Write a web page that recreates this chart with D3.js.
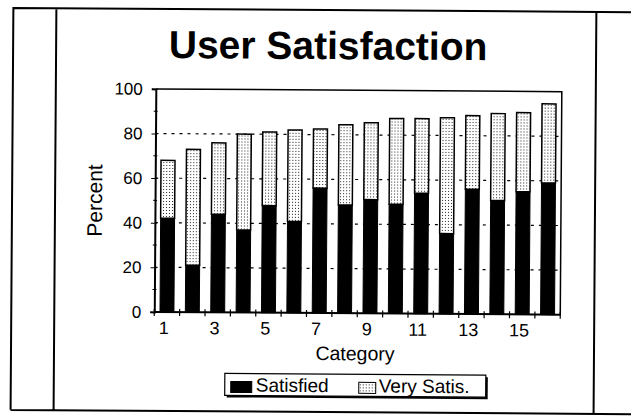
<!DOCTYPE html>
<html>
<head>
<meta charset="utf-8">
<script src="https://cdn.jsdelivr.net/npm/d3@7"></script>
<style>
  body { margin: 0; background: #fff; }
  text { font-family: "Liberation Sans", Arial, sans-serif; fill: #000; }
</style>
</head>
<body>
<div id="chart"></div>
<script>
// categories and values
var categories = ["1","2","3","4","5","6","7","8","9","10","11","12","13","14","15","16"];
var satisfied  = [42, 21, 44, 37, 48, 41, 56, 48.5, 51, 49, 54, 36, 56, 51, 55, 59];
var verySatis  = [26, 52, 32, 43, 33, 41, 26.5, 36, 34.5, 38.5, 33.5, 52, 33, 39, 35.5, 35.5];
var yTicks = [0, 20, 40, 60, 80, 100];
var yMinorTicks = [10, 30, 50, 70, 90];
var gridValues = [20, 40, 60, 80];
var xLabels = ["1","3","5","7","9","11","13","15"];
var seriesNames = ["Satisfied", "Very Satis."];

var W = 631, H = 416;
var plot = {left: 155, right: 561, top: 90, bottom: 313};

var svg = d3.select("#chart").append("svg")
    .attr("width", W)
    .attr("height", H);

// dotted fill like the scan
var defs = svg.append("defs");
var pat = defs.append("pattern")
    .attr("id", "dots")
    .attr("patternUnits", "userSpaceOnUse")
    .attr("width", 3).attr("height", 3);
pat.append("rect").attr("width", 3).attr("height", 3).attr("fill", "#fff");
pat.append("rect").attr("x", 1).attr("y", 1).attr("width", 1).attr("height", 1).attr("fill", "#222");

// whole page is a little tilted in the scan
var g = svg.append("g").attr("transform", "rotate(0.4, 315, 208)");

// outer frame
g.append("path")
    .attr("d", "M12,412 L12,10 L640,10 M55,10 L55,412 M595,10 L595,412 M12,412 L640,412")
    .attr("fill", "none")
    .attr("stroke", "#000")
    .attr("stroke-width", 2);

// title
g.append("text")
    .attr("x", 327).attr("y", 59)
    .attr("text-anchor", "middle")
    .style("font-size", "39px")
    .style("font-weight", "bold")
    .text("User Satisfaction");

var x = d3.scaleBand().domain(categories).range([plot.left, plot.right]).paddingInner(0.45).paddingOuter(0.225);
var xb = d3.scaleBand().domain(categories).range([plot.left, plot.right]);
var y = d3.scaleLinear().domain([0, 100]).range([plot.bottom, plot.top]);

// gridlines
g.selectAll("line.grid")
    .data(gridValues).enter()
    .append("line")
    .attr("class", "grid")
    .attr("x1", plot.left).attr("x2", plot.right)
    .attr("y1", d => y(d)).attr("y2", d => y(d))
    .attr("stroke", "#000")
    .attr("stroke-width", 1.2)
    .attr("stroke-dasharray", "3,5");

// plot frame (top and right)
g.append("path")
    .attr("d", `M${plot.left},${plot.top} L${plot.right},${plot.top} L${plot.right},${plot.bottom}`)
    .attr("fill", "none")
    .attr("stroke", "#000")
    .attr("stroke-width", 1.5);

// bars
var stackData = categories.map((c, i) => ({cat: c, s: satisfied[i], v: verySatis[i]}));

g.selectAll("rect.sat")
    .data(stackData).enter()
    .append("rect")
    .attr("class", "sat")
    .attr("x", d => x(d.cat))
    .attr("width", x.bandwidth())
    .attr("y", d => y(d.s))
    .attr("height", d => y(0) - y(d.s))
    .attr("fill", "#000")
    .attr("stroke", "#000");

g.selectAll("rect.vsat")
    .data(stackData).enter()
    .append("rect")
    .attr("class", "vsat")
    .attr("x", d => x(d.cat))
    .attr("width", x.bandwidth())
    .attr("y", d => y(d.s + d.v))
    .attr("height", d => y(d.s) - y(d.s + d.v))
    .attr("fill", "url(#dots)")
    .attr("stroke", "#000")
    .attr("stroke-width", 1.5);

// y axis
var yAxis = g.append("g")
    .attr("transform", `translate(${plot.left},0)`)
    .call(d3.axisLeft(y).tickValues(yTicks).tickSize(4).tickPadding(9));
yAxis.select(".domain").attr("stroke-width", 2);
yAxis.selectAll(".tick line").attr("x2", -4).attr("x1", 2);
yAxis.selectAll("text").style("font-size", "17px");
g.selectAll("line.yminor")
    .data(yMinorTicks).enter()
    .append("line")
    .attr("x1", plot.left - 2).attr("x2", plot.left + 2)
    .attr("y1", d => y(d)).attr("y2", d => y(d))
    .attr("stroke", "#000");

// x axis line and cross ticks at category boundaries
g.append("line")
    .attr("x1", plot.left).attr("x2", plot.right)
    .attr("y1", plot.bottom).attr("y2", plot.bottom)
    .attr("stroke", "#000").attr("stroke-width", 2);
var bounds = categories.map(c => xb(c)).concat([plot.right]);
g.selectAll("line.xtick")
    .data(bounds).enter()
    .append("line")
    .attr("x1", d => d).attr("x2", d => d)
    .attr("y1", plot.bottom - 3).attr("y2", plot.bottom + 4)
    .attr("stroke", "#000").attr("stroke-width", 1.2);

g.selectAll("text.xlab")
    .data(xLabels).enter()
    .append("text")
    .attr("x", d => x(d) + x.bandwidth() / 2 - 3)
    .attr("y", plot.bottom + 22)
    .attr("text-anchor", "middle")
    .style("font-size", "18px")
    .text(d => d);

// axis titles
g.append("text")
    .attr("x", 356).attr("y", 360)
    .attr("text-anchor", "middle")
    .style("font-size", "19.5px")
    .text("Category");

g.append("text")
    .attr("transform", "translate(102, 202) rotate(-90)")
    .attr("text-anchor", "middle")
    .style("font-size", "21px")
    .text("Percent");

// legend
var lg = g.append("g").attr("transform", "translate(226, 374)");
lg.append("rect").attr("x", 2).attr("y", 2).attr("width", 261).attr("height", 22).attr("fill", "#000");
lg.append("rect").attr("width", 261).attr("height", 22).attr("fill", "#fff").attr("stroke", "#000").attr("stroke-width", 1.2);
var items = lg.selectAll("g.item")
    .data(seriesNames).enter()
    .append("g")
    .attr("transform", (d, i) => `translate(${i == 0 ? 6 : 134}, 0)`);
items.append("rect")
    .attr("x", 0).attr("y", 8)
    .attr("width", (d, i) => i == 0 ? 21 : 17).attr("height", 11)
    .attr("fill", (d, i) => i == 0 ? "#000" : "url(#dots)")
    .attr("stroke", "#000");
items.append("text")
    .attr("x", (d, i) => i == 0 ? 25 : 20).attr("y", 18)
    .style("font-size", "19px")
    .text(d => d);
</script>
</body>
</html>
